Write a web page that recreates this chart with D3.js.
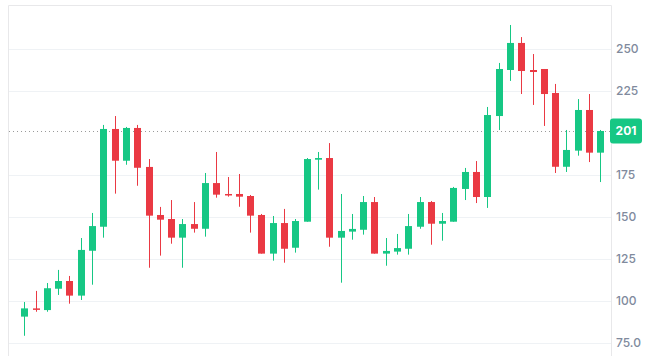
<!DOCTYPE html>
<html>
<head>
<meta charset="utf-8">
<script src="https://cdn.jsdelivr.net/npm/d3@7/dist/d3.min.js"></script>
<style>
  html, body { margin: 0; padding: 0; background: #ffffff; }
  svg { display: block; }
</style>
</head>
<body>
<svg id="chart" width="657" height="356"></svg>
<script>
// ---- data ----
const categories = d3.range(1, 53).map(d => "D" + d);
const openValues  = [90.7, 95.6, 94.6, 107.3, 111.9, 103.2, 129.9, 144.2, 202.4, 183.5, 203.0, 179.8, 151.2, 148.8, 137.7, 145.8, 143.0, 170.2, 163.7, 163.7, 162.5, 151.2, 128.2, 146.4, 131.7, 147.2, 184.1, 185.1, 137.7, 141.3, 142.4, 158.9, 128.2, 129.4, 131.1, 144.2, 158.9, 146.0, 147.2, 166.7, 176.8, 161.9, 210.1, 237.5, 253.6, 237.5, 238.1, 223.8, 179.9, 189.5, 213.7, 188.3];
const highValues  = [99.4, 106.0, 110.7, 118.5, 114.9, 137.5, 152.4, 204.8, 210.1, 203.6, 204.8, 184.5, 156.0, 160.1, 148.8, 158.9, 176.2, 188.7, 173.8, 175.6, 163.1, 151.8, 150.6, 154.8, 148.8, 185.1, 188.7, 194.0, 163.7, 151.8, 162.5, 161.9, 137.5, 139.9, 151.8, 161.9, 159.5, 152.4, 167.9, 179.2, 183.3, 215.5, 241.7, 264.3, 257.1, 247.0, 238.1, 229.2, 201.8, 220.2, 223.2, 201.8];
const lowValues   = [79.3, 93.6, 93.6, 103.6, 98.4, 100.6, 109.7, 137.7, 163.9, 181.1, 168.6, 119.8, 127.0, 134.1, 119.8, 140.7, 138.3, 161.5, 162.1, 156.1, 140.7, 128.2, 124.0, 122.8, 128.8, 147.2, 166.3, 132.3, 110.9, 136.5, 139.5, 128.2, 121.0, 127.6, 127.6, 143.0, 133.5, 135.9, 147.2, 160.1, 158.3, 155.4, 201.8, 231.0, 223.2, 216.7, 204.2, 176.2, 176.8, 186.5, 182.7, 170.8];
const closeValues = [95.6, 94.8, 107.6, 111.9, 103.2, 130.4, 144.6, 202.4, 183.5, 203.0, 179.3, 150.8, 148.4, 137.7, 145.8, 143.0, 170.2, 163.3, 163.1, 162.1, 150.8, 128.2, 146.4, 131.1, 147.6, 184.5, 185.1, 137.7, 141.7, 142.9, 158.9, 128.2, 129.8, 131.5, 144.6, 158.9, 146.0, 147.6, 167.3, 176.8, 161.9, 210.7, 238.1, 253.6, 236.9, 236.3, 223.2, 179.9, 189.9, 213.7, 188.3, 201.2];
const tickValues = [75, 100, 125, 150, 175, 225, 250];
const tickLabels = ["75.0", "100", "125", "150", "175", "225", "250"];
const lastPriceLabel = "201";

// ---- styles ----
const UP = "#16c784", DOWN = "#ea3943";
const GRID = "#eff2f5", BORDER = "#e8e8ea", AXIS_TEXT = "#808a9d";

const svg = d3.select("#chart");
const plot = { left: 8, top: 5, right: 611, bottom: 360 };

const y = d3.scaleLinear().domain([75, 250]).range([343, 49]);
const x = d3.scalePoint().domain(categories).range([24.3, 600.3]);
const bodyW = 7;

const data = categories.map((c, i) => ({
  c, o: openValues[i], h: highValues[i], l: lowValues[i], cl: closeValues[i]
}));

// gridlines
svg.append("g").selectAll("line").data(tickValues).join("line")
  .attr("x1", plot.left).attr("x2", plot.right)
  .attr("y1", d => Math.round(y(d)) + 0.5).attr("y2", d => Math.round(y(d)) + 0.5)
  .attr("stroke", GRID).attr("stroke-width", 1);

// border (top, left, right)
svg.append("path")
  .attr("d", `M${plot.left + 0.5},${plot.bottom} V${plot.top + 0.5} H${plot.right + 0.5} V${plot.bottom}`)
  .attr("fill", "none").attr("stroke", BORDER).attr("stroke-width", 1);

// last price dotted line
const lastY = y(closeValues[closeValues.length - 1]);
svg.append("line")
  .attr("x1", plot.left + 1).attr("x2", plot.right)
  .attr("y1", Math.round(lastY) + 0.5).attr("y2", Math.round(lastY) + 0.5)
  .attr("stroke", "#9a9a9a").attr("stroke-width", 1).attr("stroke-dasharray", "1,3");

// candles
const g = svg.append("g");
const candle = g.selectAll("g.c").data(data).join("g").attr("class", "c");
candle.append("line")
  .attr("x1", d => Math.round(x(d.c)) + 0.5).attr("x2", d => Math.round(x(d.c)) + 0.5)
  .attr("y1", d => y(d.h)).attr("y2", d => y(d.l))
  .attr("stroke", d => d.cl >= d.o ? UP : DOWN).attr("stroke-width", 1);
candle.append("rect")
  .attr("x", d => Math.round(x(d.c)) + 0.5 - bodyW / 2)
  .attr("width", bodyW)
  .attr("y", d => y(Math.max(d.o, d.cl)))
  .attr("height", d => Math.max(1.5, Math.abs(y(d.o) - y(d.cl))))
  .attr("fill", d => d.cl >= d.o ? UP : DOWN);

// right axis
const axis = d3.axisRight(y).tickValues(tickValues).tickSize(0).tickPadding(0)
  .tickFormat((d, i) => tickLabels[i]);
const ag = svg.append("g").attr("transform", `translate(616,0)`).call(axis);
ag.select(".domain").remove();
ag.selectAll("text")
  .attr("fill", AXIS_TEXT)
  .style("font-family", "Inter, 'Noto Sans', sans-serif")
  .style("font-size", "12px").style("font-weight", "500");

// last price label
const lbl = svg.append("g").attr("transform", `translate(610,${Math.round(lastY) - 12.5})`);
lbl.append("rect").attr("width", 32).attr("height", 25).attr("rx", 3).attr("fill", UP);
lbl.append("text").attr("x", 16).attr("y", 12.5).attr("dy", "0.35em")
  .attr("text-anchor", "middle").attr("fill", "#ffffff")
  .style("font-family", "Inter, 'Noto Sans', sans-serif")
  .style("font-size", "12px").style("font-weight", "700")
  .text(lastPriceLabel);
</script>
</body>
</html>
